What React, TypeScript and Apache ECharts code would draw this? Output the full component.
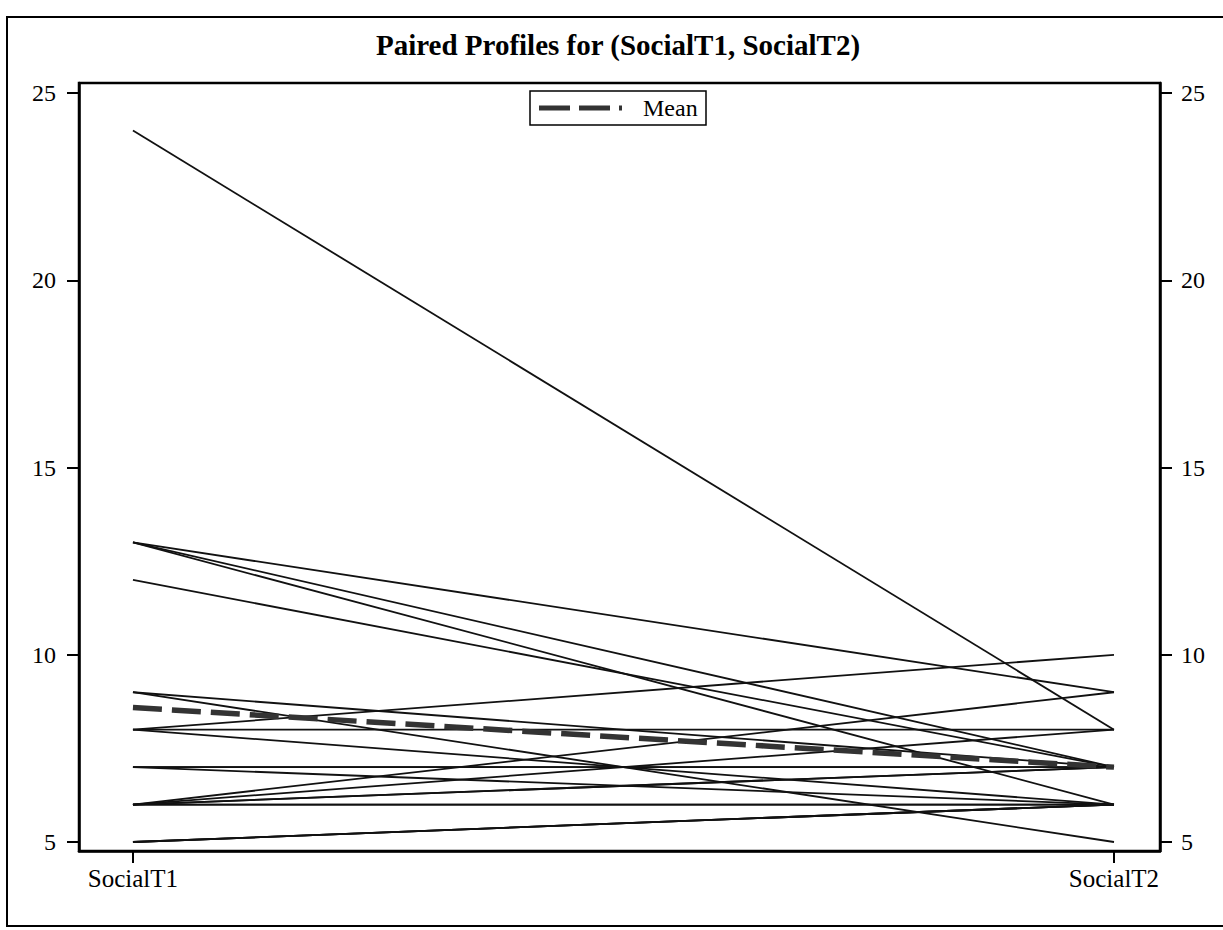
import React, { useEffect, useRef } from "react";
import * as echarts from "echarts";

const categories = ["SocialT1", "SocialT2"];
const socialT1 = [24, 13, 13, 13, 12, 9, 9, 8, 8, 8, 7, 7, 6, 6, 6, 6, 5, 7, 6, 6, 5, 5];
const socialT2 = [8, 9, 7, 6, 7, 7, 5, 10, 8, 6, 7, 6, 9, 8, 7, 6, 6, 7, 6, 7, 6, 6];
const yTicks = [5, 10, 15, 20, 25];
const titleText = "Paired Profiles for (SocialT1, SocialT2)";
const legendText = "Mean";

const FONT = "'Liberation Serif', 'Times New Roman', serif";

export default function App() {
  const ref = useRef<HTMLDivElement>(null);

  useEffect(() => {
    if (!ref.current) return;
    const chart = echarts.init(ref.current, null, { renderer: "svg" });

    const meanT1 = socialT1.reduce((a, b) => a + b, 0) / socialT1.length;
    const meanT2 = socialT2.reduce((a, b) => a + b, 0) / socialT2.length;

    const subjectSeries = socialT1.map((v, i) => ({
      type: "line",
      name: "subject" + (i + 1),
      data: [
        [0, v],
        [1, socialT2[i]],
      ],
      symbol: "none",
      silent: true,
      lineStyle: { color: "#111", width: 1.8 },
      z: 2,
    }));

    const yAxisCommon = {
      type: "value",
      min: 4.76,
      max: 25.27,
      splitLine: { show: false },
      axisLine: { show: true, onZero: false, lineStyle: { color: "#000", width: 2.5 } },
      axisTick: {
        show: true,
        length: 12,
        customValues: yTicks,
        lineStyle: { color: "#000", width: 2 },
      },
      axisLabel: {
        customValues: yTicks,
        color: "#000",
        fontFamily: FONT,
        fontSize: 24,
      },
    };

    chart.setOption({
      animation: false,
      backgroundColor: "#fff",
      grid: {
        left: 79,
        top: 83,
        width: 1081,
        height: 768,
        show: true,
        borderColor: "#000",
        borderWidth: 2.5,
        containLabel: false,
      },
      xAxis: {
        type: "value",
        min: -0.055,
        max: 1.0469,
        splitLine: { show: false },
        axisLine: { show: true, onZero: false, lineStyle: { color: "#000", width: 2.5 } },
        axisTick: {
          show: true,
          length: 12,
          customValues: [0, 1],
          lineStyle: { color: "#000", width: 2 },
        },
        axisLabel: {
          customValues: [0, 1],
          formatter: (v: number) => categories[Math.round(v)],
          color: "#000",
          fontFamily: FONT,
          fontSize: 25,
          margin: 15,
        },
      },
      yAxis: [
        { ...yAxisCommon, position: "left", axisLabel: { ...yAxisCommon.axisLabel, margin: 23 } },
        { ...yAxisCommon, position: "right", axisLabel: { ...yAxisCommon.axisLabel, margin: 21 } },
      ],
      series: [
        ...subjectSeries,
        {
          type: "line",
          name: legendText,
          data: [
            [0, meanT1],
            [1, meanT2],
          ],
          symbol: "none",
          silent: true,
          lineStyle: { color: "#333", width: 5.5, type: [29, 10] },
          z: 5,
        },
      ],
      graphic: [
        {
          type: "rect",
          shape: { x: 7, y: 17, width: 1230, height: 909 },
          style: { fill: "none", stroke: "#000", lineWidth: 2 },
          silent: true,
        },
        {
          type: "text",
          x: 618,
          y: 45,
          style: {
            text: titleText,
            fill: "#000",
            font: `bold 29px ${FONT}`,
            textAlign: "center",
            textVerticalAlign: "middle",
          },
        },
        {
          type: "rect",
          shape: { x: 530, y: 91, width: 176, height: 34 },
          style: { fill: "#fff", stroke: "#000", lineWidth: 1.5 },
          z: 20,
        },
        {
          type: "line",
          shape: { x1: 539, y1: 108, x2: 622, y2: 108 },
          style: { stroke: "#333", lineWidth: 5, lineDash: [31, 9] },
          z: 21,
        },
        {
          type: "text",
          x: 643,
          y: 108,
          style: {
            text: legendText,
            fill: "#000",
            font: `24px ${FONT}`,
            textAlign: "left",
            textVerticalAlign: "middle",
          },
          z: 21,
        },
      ],
    });

    return () => chart.dispose();
  }, []);

  return (
    <div
      ref={ref}
      style={{ position: "absolute", left: 0, top: 0, width: 1223, height: 930 }}
    />
  );
}
